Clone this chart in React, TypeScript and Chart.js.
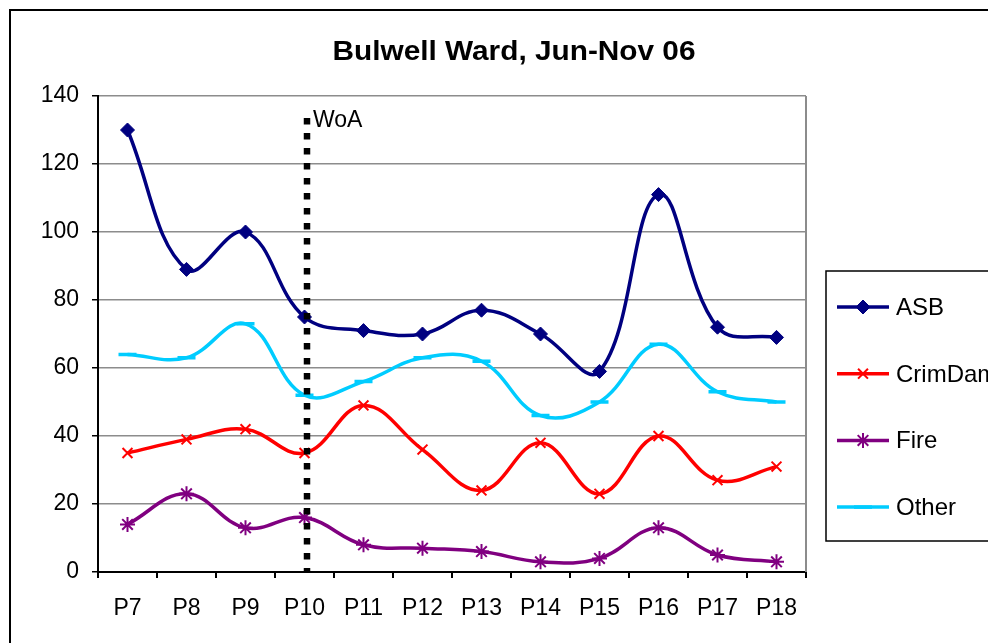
import React, { useEffect, useRef } from "react";
import { Chart, registerables } from "chart.js";
import { drawPoint } from "chart.js/helpers";

Chart.register(...registerables);

const chartTitle = "Bulwell Ward, Jun-Nov 06";
const categories = ["P7", "P8", "P9", "P10", "P11", "P12", "P13", "P14", "P15", "P16", "P17", "P18"];
const asbValues = [130, 89, 100, 75, 71, 70, 77, 70, 59, 111, 72, 69];
const crimDamValues = [35, 39, 42, 35, 49, 36, 24, 38, 23, 40, 27, 31];
const fireValues = [14, 23, 13, 16, 8, 7, 6, 3, 4, 13, 5, 3];
const otherValues = [64, 63, 73, 52, 56, 63, 62, 46, 50, 67, 53, 50];
const yMin = 0;
const yMax = 140;
const yStep = 20;
const markerCategory = "P10";
const markerLabel = "WoA";
const markerTopValue = 133.5;

const FONT = '"Liberation Sans", Arial, sans-serif';

const seriesStyles = [
  { label: "ASB", data: asbValues, color: "#000080", pointStyle: "rectRot", radius: 7, pbw: 1 },
  { label: "CrimDam", data: crimDamValues, color: "#FF0000", pointStyle: "crossRot", radius: 7, pbw: 2 },
  { label: "Fire", data: fireValues, color: "#800080", pointStyle: "star", radius: 7.5, pbw: 2 },
  { label: "Other", data: otherValues, color: "#00CCFF", pointStyle: "line", radius: 9, pbw: 3.5 },
];

const decorPlugin = {
  id: "decor",
  beforeDraw(chart: any) {
    const ctx = chart.ctx;
    ctx.save();
    ctx.fillStyle = "#ffffff";
    ctx.fillRect(0, 0, chart.width, chart.height);
    ctx.fillStyle = "#000000";
    ctx.fillRect(9, 9, 2, chart.height);
    ctx.fillRect(9, 9, chart.width, 2);
    ctx.restore();
  },
  afterDraw(chart: any) {
    const ctx = chart.ctx;
    const area = chart.chartArea;
    const xs = chart.scales.x;
    const ys = chart.scales.y;
    ctx.save();
    ctx.strokeStyle = "#8c8c8c";
    ctx.lineWidth = 2;
    ctx.beginPath();
    ctx.moveTo(area.right, area.top);
    ctx.lineTo(area.right, area.bottom);
    ctx.stroke();

    // title
    ctx.fillStyle = "#000";
    ctx.font = `bold 27px ${FONT}`;
    ctx.textAlign = "center";
    ctx.textBaseline = "alphabetic";
    const tw = ctx.measureText(chartTitle).width;
    const sx = 363 / tw;
    ctx.save();
    ctx.translate(514, 60);
    ctx.scale(sx, 1);
    ctx.fillText(chartTitle, 0, 0);
    ctx.restore();

    // WoA marker line
    const idx = categories.indexOf(markerCategory);
    const mx = Math.round(xs.getPixelForValue(idx)) + 2;
    const top = ys.getPixelForValue(markerTopValue);
    ctx.strokeStyle = "#000";
    ctx.lineWidth = 6.5;
    ctx.setLineDash([6.5, 8.5]);
    ctx.lineCap = "butt";
    ctx.beginPath();
    ctx.moveTo(mx, top);
    ctx.lineTo(mx, area.bottom);
    ctx.stroke();
    ctx.setLineDash([]);
    ctx.font = `23px ${FONT}`;
    ctx.textAlign = "left";
    ctx.fillText(markerLabel, mx + 6, top + 9);

    // legend
    const lx = 826;
    const ly = 271;
    ctx.strokeStyle = "#000";
    ctx.lineWidth = 1.5;
    ctx.strokeRect(lx, ly, 200, 270);
    ctx.font = `24px ${FONT}`;
    seriesStyles.forEach((s, i) => {
      const cy = 307 + i * 66.7;
      ctx.strokeStyle = s.color;
      ctx.fillStyle = s.color;
      ctx.lineWidth = 3.5;
      ctx.beginPath();
      ctx.moveTo(837, cy);
      ctx.lineTo(889, cy);
      ctx.stroke();
      ctx.lineWidth = s.pbw;
      drawPoint(ctx, { pointStyle: s.pointStyle, radius: s.radius, borderWidth: s.pbw, rotation: 0 } as any, 863, cy);
      ctx.fillStyle = "#000";
      ctx.fillText(s.label, 896, cy + 8);
    });
    ctx.restore();
  },
};

export default function App() {
  const ref = useRef<HTMLCanvasElement>(null);
  useEffect(() => {
    if (!ref.current) return;
    const chart = new Chart(ref.current, {
      type: "line",
      data: {
        labels: categories,
        datasets: seriesStyles.map((s) => ({
          label: s.label,
          data: s.data,
          borderColor: s.color,
          backgroundColor: s.color,
          borderWidth: 3.5,
          pointStyle: s.pointStyle as any,
          pointRadius: s.radius,
          pointBorderWidth: s.pbw,
          pointBackgroundColor: s.color,
          pointBorderColor: s.color,
          tension: 0.4,
          fill: false,
        })),
      },
      options: {
        animation: false,
        responsive: false,
        devicePixelRatio: 1,
        layout: { padding: { left: 0, top: 96, right: 182, bottom: 0 } },
        plugins: {
          legend: { display: false },
          title: { display: false },
          tooltip: { enabled: false },
        },
        scales: {
          x: {
            offset: true,
            grid: { offset: true, drawOnChartArea: false, color: "#000", tickLength: 6, lineWidth: 2 },
            border: { color: "#000", width: 2 },
            ticks: { color: "#000", font: { family: FONT, size: 23 }, padding: 17, maxRotation: 0, autoSkip: false },
            afterFit: (s: any) => {
              s.height = 71;
            },
          },
          y: {
            min: yMin,
            max: yMax,
            ticks: { stepSize: yStep, color: "#000", font: { family: FONT, size: 23 }, padding: 13 },
            grid: { color: "#8c8c8c", lineWidth: 1.5, tickColor: "#000", tickLength: 6 },
            border: { color: "#000", width: 2 },
            afterFit: (s: any) => {
              s.width = 98;
            },
          },
        },
      },
      plugins: [decorPlugin],
    });
    return () => chart.destroy();
  }, []);
  return (
    <div style={{ position: "fixed", left: 0, top: 0, width: 988, height: 643, background: "#fff" }}>
      <canvas ref={ref} width={988} height={643} style={{ display: "block" }} />
    </div>
  );
}
